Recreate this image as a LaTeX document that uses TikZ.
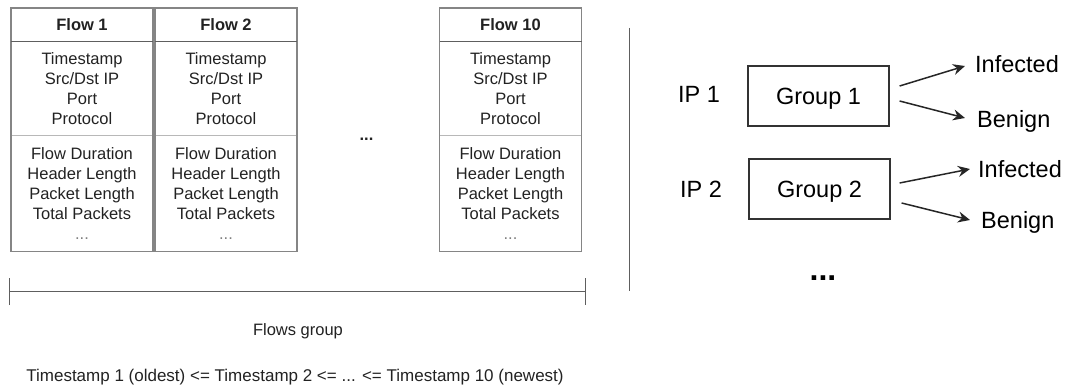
\documentclass[tikz,border=0pt]{standalone}
\usepackage{fontspec}
\setmainfont{Liberation Sans}
\usetikzlibrary{positioning,arrows.meta}

\definecolor{boxgray}{HTML}{858585}
\definecolor{linegray}{HTML}{B8B8B8}
\definecolor{darkline}{HTML}{5E5E5E}
\definecolor{inkgray}{HTML}{222222}

\tikzset{
  flowhead/.style={minimum width=142pt, minimum height=33.5pt, inner sep=0pt, outer sep=0pt,
    text=inkgray, font=\fontsize{16.5}{20}\selectfont\bfseries},
  flowbody/.style={draw=linegray, line width=1pt, minimum width=142pt, inner sep=0pt, outer sep=0pt,
    align=center, text=inkgray, font=\fontsize{16.5}{20}\selectfont},
  flowframe/.style={draw=boxgray, line width=1.5pt},
  grp/.style={draw=black!80, line width=1.2pt, minimum width=141pt, minimum height=60pt,
    font=\fontsize{23.5}{28}\selectfont, text height=16.8pt, text depth=0pt},
  lbl/.style={inner sep=0pt, font=\fontsize{23.5}{28}\selectfont, text height=16.8pt, text depth=0pt},
  note/.style={inner sep=0pt, text=inkgray, font=\fontsize{16.5}{20}\selectfont, text height=11.8pt, text depth=0pt},
  arr/.style={-{Stealth[length=12pt,width=11pt,inset=4pt]}, line width=1.5pt, draw=black!85},
}

\begin{document}
\begin{tikzpicture}[x=1pt,y=-1pt]
\useasboundingbox (0,0) rectangle (1066,385);
% flow tables
\foreach \x/\n/\id in {11/1/fa,155/2/fb,439.5/10/fc} {
  \node[flowhead, anchor=north west] (\id h) at (\x,8) {Flow \n};
  \node[flowbody, minimum height=94.5pt, below=0pt of \id h] (\id a) {Timestamp\\Src/Dst IP\\Port\\Protocol};
  \node[flowbody, minimum height=115.5pt, below=0pt of \id a] (\id f) {Flow Duration\\Header Length\\Packet Length\\Total Packets\\{\color{gray}...}};
  \draw[flowframe] (\id h.north west) rectangle (\id f.south east);
  \draw[flowframe, draw=darkline] (\id h.south west) -- (\id h.south east);
}
\node[inner sep=0pt, text=inkgray, font=\fontsize{16.5}{20}\selectfont\bfseries] (skip) at (366.5,139.5) {...};
% span of the group
\coordinate (bl) at (8.5,291.5);
\coordinate (br) at (586,291.5);
\draw[darkline, line width=1.5pt, {Bar[width=27pt]}-{Bar[width=27pt]}] (bl) -- (br);
\node[note] (grplbl) at (298,330) {Flows group};
\node[note, font=\fontsize{17}{20}\selectfont, text height=12.2pt] (order) at (295,375) {Timestamp 1 (oldest) <= Timestamp 2 <= ... <= Timestamp 10 (newest)};
% separator
\coordinate (septop) at (629.5,28);
\coordinate (sepbot) at (629.5,291);
\draw[darkline, line width=1.5pt] (septop) -- (sepbot);
% groups per IP
\node[lbl] (ip1) at (699,94.5) {IP 1};
\node[grp] (g1) at (818.5,96) {Group 1};
\node[lbl, anchor=west] (inf1) at (975,64) {Infected};
\node[lbl, anchor=west] (ben1) at (977,119) {Benign};
\node[lbl] (ip2) at (701,189) {IP 2};
\node[grp] (g2) at (819.5,189) {Group 2};
\node[lbl, anchor=west] (inf2) at (978,169) {Infected};
\node[lbl, anchor=west] (ben2) at (981,220) {Benign};
\node[inner sep=0pt, font=\fontsize{32}{36}\selectfont\bfseries] (more) at (823,278.5) {...};
\draw[arr] ([xshift=10pt,yshift=10pt]g1.east) -- ([xshift=-10pt,yshift=-2pt]inf1.west);
\draw[arr] ([xshift=10pt,yshift=-5pt]g1.east) -- ([xshift=-12pt,yshift=1pt]ben1.west);
\draw[arr] ([xshift=9pt,yshift=6pt]g2.east) -- ([xshift=-8pt]inf2.west);
\draw[arr] ([xshift=11pt,yshift=-14pt]g2.east) -- ([xshift=-11pt]ben2.west);
\end{tikzpicture}
\end{document}
